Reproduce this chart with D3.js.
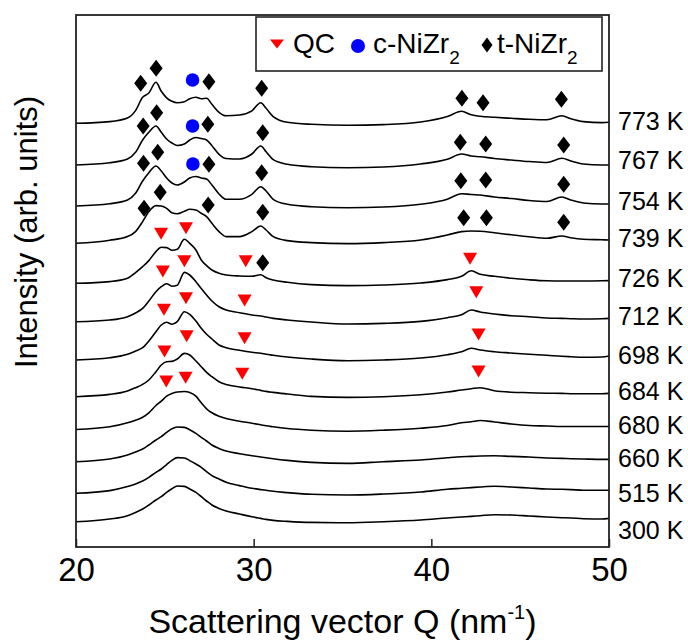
<!DOCTYPE html>
<meta charset="utf-8">
<script src="https://d3js.org/d3.v7.min.js"></script>
<style>
    body { margin: 0; background: #fff; }
    text { font-family: Arial, 'Liberation Sans', sans-serif; fill: #000; }
</style>
<div id="my_dataviz"></div>
<script>
    // temperatures, top curve first
    var temps = ["773 K", "767 K", "754 K", "739 K", "726 K", "712 K", "698 K", "684 K", "680 K", "660 K", "515 K", "300 K"];
    // vertical offset of each curve (arb. units)
    var offsets = [423.7, 382, 341, 303.7, 263.7, 225.3, 187, 150.3, 117.5, 85.3, 53.7, 25.3];
    // level of the temperature label next to each curve
    var labelLevels = [425.3, 387, 345.3, 308.7, 268.7, 230.3, 192, 155.3, 122, 88.7, 53.7, 17];

    // scattering vector Q (nm^-1)
    var qValues = [20, 21.9, 22.9, 23.35, 23.75, 24.1, 24.5, 24.8, 25.1, 25.4, 25.7, 26.1, 26.4, 26.75, 27.05, 27.35, 27.65, 28.05, 28.45, 29.2, 29.9, 30.4, 30.7, 31.1, 31.9, 33.25, 35.3, 37.3, 39.4, 40.9, 41.7, 42.25, 42.75, 43.55, 44.5, 45.5, 46.5, 47.35, 47.85, 48.55, 49.6, 50];

    // intensity above each curve's offset
    var i773 = [0, 1.7, 5.3, 12.7, 26, 30.3, 41, 32, 25.5, 22, 20.5, 21.5, 24.5, 26, 24.5, 25, 19, 11, 7.5, 8.3, 12.5, 20.5, 15, 6.7, 1, -1, -2, -1.3, 1.3, 6.7, 12, 8.5, 7, 6, 5, 4, 3.5, 7.5, 4.5, 1.7, 0.7, 1];
    var i767 = [0, 2.3, 6, 12.7, 25, 32.7, 39, 32.7, 26, 22, 19.5, 21, 25, 27.5, 26.5, 25, 19.3, 10.7, 6.5, 6, 11, 19, 13.3, 5.3, 0.7, -1.7, -2.7, -2, 1, 5.7, 11, 9, 8.3, 6.5, 5, 3.5, 2.5, 6.7, 4, 1, 0, 0];
    var i754 = [0, 2.3, 6, 12.7, 25, 33.3, 40, 35, 28, 23, 21, 24, 28, 29.5, 28, 27, 21, 12, 6.7, 6.7, 11.7, 19.3, 15, 6.7, 1.7, -0.7, -1.7, -1, 1.7, 6.7, 12.3, 11.5, 11, 9, 7.5, 5.5, 4.5, 9, 6, 3, 2, 2];
    var i739 = [0, 3, 6.7, 11.7, 21.7, 31.7, 37.7, 37.3, 35, 30.5, 29.5, 32, 34, 33.3, 30, 26.7, 20, 11.7, 6.7, 6.7, 11.7, 17.3, 13.3, 6.7, 2.7, 0.7, -0.3, 0.7, 3.3, 8.3, 11.7, 12.3, 12, 10.5, 8.5, 6.5, 5, 7.3, 5.5, 4, 3.5, 3.3];
    var i726 = [0, 1.7, 5, 10.7, 16.7, 22.7, 31.7, 36, 35.7, 33, 34, 44, 40, 33.3, 23.3, 17.7, 13.3, 10, 8.3, 7.3, 7, 8.5, 5.5, 3.3, 1, -1.3, -2.3, -1.7, 0.3, 3.7, 7, 12.5, 9, 7, 5, 3.5, 2.5, 2.3, 2.3, 2.3, 2.5, 2.7];
    var i712 = [0, 1.7, 5, 8.7, 13.3, 20.7, 30, 35, 38, 35.5, 36.5, 49.3, 46.7, 40, 33.3, 26.7, 20.7, 15, 11.7, 9, 6.7, 5.7, 4.7, 3.3, 1.7, -0.3, -2.3, -1.7, 0.3, 4, 7, 11.7, 9.7, 7.7, 6, 5, 3.7, 3.3, 3, 2.7, 3, 3.3];
    var i698 = [0, 2.3, 5.7, 9, 12.3, 19, 28.3, 35, 37.7, 35.7, 38.3, 48.3, 45.7, 39, 31.7, 25.7, 21, 15, 12.3, 9.7, 7.7, 6.7, 5.7, 4.7, 3, 1, -0.7, 0, 2, 5.3, 8.3, 11.7, 10, 8.3, 7, 5.7, 4.7, 3.7, 3.3, 2.7, 3, 4];
    var i684 = [0, 2.3, 5.7, 9, 12.3, 16.7, 25, 31.7, 35, 35.3, 37.7, 43.3, 41.7, 35.7, 30, 24.3, 20, 15, 12.3, 9.7, 8, 6.3, 5.3, 4.3, 2.7, 0.3, -0.7, 0, 2, 4.7, 6.7, 8, 9, 6, 4.5, 4, 3.5, 3.3, 3, 3, 3, 3.3];
    var i680 = [0, 2.7, 6.7, 9.3, 12.3, 16.7, 24, 28.3, 33.3, 36, 37.5, 38, 37, 33.3, 26.7, 20.7, 16.7, 13.3, 11, 8.3, 6.3, 4.7, 3.7, 2.7, 1, -0.7, -1.7, -0.7, 1.3, 4, 6.7, 7.7, 9, 7.5, 5.5, 4, 3.5, 3, 3, 3, 3, 3];
    var i660 = [0, 2.7, 6.7, 9.7, 12.7, 16.7, 21.7, 25, 29.3, 33, 34.7, 34.3, 32, 28.3, 24.3, 20.7, 16.7, 13.3, 10.7, 8, 6, 4.7, 4, 3, 1.3, -0.7, -1.7, 0, 1.7, 4, 5, 5.3, 5.7, 6, 5.3, 4.7, 3.7, 3.3, 3, 2.7, 2.3, 2.3];
    var i515 = [0, 2.7, 6.7, 9.3, 12.3, 16, 21, 24.3, 28.7, 33, 35.7, 35.3, 32.7, 29.3, 26, 21.7, 17.7, 14.3, 11, 7.7, 5, 3.7, 3, 2, 0.7, -1, -1.7, -0.7, 1.3, 4, 5, 5.7, 6.3, 7, 6.3, 5.3, 4.3, 4, 3.7, 3, 3, 3];
    var i300 = [0, 2.7, 6, 9.3, 12.7, 16.7, 21.7, 25, 29.3, 33, 35.7, 35.3, 32.7, 29.3, 25, 20.7, 16.7, 13.3, 10.7, 7.7, 5, 3.3, 2.3, 1.3, 0.3, -0.7, -1, 0, 1.7, 3.7, 4.7, 5.3, 6, 7, 6.7, 5.7, 4.7, 4, 3.7, 3, 2.7, 3.3];
    var intensities = [i773, i767, i754, i739, i726, i712, i698, i684, i680, i660, i515, i300];

    // peak markers [Q, level]
    var tNiZr2 = [[23.64, 463.7], [24.51, 478.7], [27.48, 465.3], [30.45, 458.7], [41.72, 448.7], [42.91, 444.3], [47.32, 447.7],
                  [23.78, 421], [24.54, 434.3], [27.42, 422.7], [30.51, 414.3], [41.63, 404.7], [43.06, 403], [47.45, 402],
                  [23.80, 383.7], [24.60, 394.7], [27.48, 382.7], [30.45, 374.3], [41.66, 366.3], [43.06, 367], [47.45, 362.7],
                  [23.83, 338.7], [24.74, 354.7], [27.44, 342], [30.51, 334.7], [41.82, 329.3], [43.10, 329.3], [47.45, 324.7],
                  [30.51, 284.3]];
    var cNiZr2 = [[26.56, 467], [26.56, 421], [26.58, 383]];
    var qc = [[24.79, 313.7], [26.19, 319.3],
              [24.89, 276], [26.10, 286.3], [29.55, 286.3], [42.18, 288.7],
              [24.95, 237.7], [26.19, 249.3], [29.49, 247], [42.53, 255.3],
              [24.98, 196], [26.23, 211.3], [29.49, 209.3], [42.66, 213],
              [25.08, 166], [26.17, 169.7], [29.36, 173.7], [42.66, 176]];

    var margin = {top: 15, right: 79, bottom: 94, left: 76},
        width = 688 - margin.left - margin.right,
        height = 641 - margin.top - margin.bottom;

    var svg = d3.select("#my_dataviz")
        .append("svg")
        .attr("width", 688)
        .attr("height", 641)
        .append("g")
        .attr("transform", "translate(" + margin.left + "," + margin.top + ")");

    var x = d3.scaleLinear().domain([20, 50]).range([0, width]);
    var y = d3.scaleLinear().domain([0, height]).range([height, 0]);

    // the curves
    intensities.forEach(function(vals, k) {
        var line = d3.line()
            .curve(d3.curveMonotoneX)
            .x(function(d, i) { return x(qValues[i]); })
            .y(function(d) { return y(offsets[k] + d); });
        svg.append("path")
            .datum(vals)
            .attr("fill", "none")
            .attr("stroke", "#000")
            .attr("stroke-width", 1.6)
            .attr("d", line);
    });

    // marker shapes
    var diamondPath = "M0,-8.5L6.5,0L0,8.5L-6.5,0Z";
    var trianglePath = "M-7,-5.5L7,-5.5L0,6.5Z";

    svg.selectAll(".tmark")
        .data(tNiZr2)
        .enter()
        .append("path")
        .attr("d", diamondPath)
        .attr("fill", "#000")
        .attr("transform", function(d) { return "translate(" + x(d[0]) + "," + y(d[1]) + ")"; });

    svg.selectAll(".cmark")
        .data(cNiZr2)
        .enter()
        .append("circle")
        .attr("cx", function(d) { return x(d[0]); })
        .attr("cy", function(d) { return y(d[1]); })
        .attr("r", 6.8)
        .attr("fill", "#0000ff");

    svg.selectAll(".qmark")
        .data(qc)
        .enter()
        .append("path")
        .attr("d", trianglePath)
        .attr("fill", "#ff0000")
        .attr("transform", function(d) { return "translate(" + x(d[0]) + "," + y(d[1]) + ")"; });

    // temperature labels on the right
    svg.selectAll(".tlabel")
        .data(temps)
        .enter()
        .append("text")
        .attr("x", width + 9)
        .attr("y", function(d, i) { return y(labelLevels[i]); })
        .attr("dy", "0.35em")
        .style("font-size", "25px")
        .text(function(d) { return d; });

    // x axis, ticks pointing inwards
    var xAxis = svg.append("g")
        .attr("transform", "translate(0," + height + ")")
        .call(d3.axisBottom(x).tickValues([20, 30, 40, 50]).tickSizeInner(-8).tickSizeOuter(0).tickPadding(11));
    xAxis.select(".domain").remove();
    xAxis.selectAll("line").attr("stroke", "#222").attr("stroke-width", 1.5);
    xAxis.selectAll("text")
        .style("font-size", "33px")
        .style("font-family", "Arial, 'Liberation Sans', sans-serif");

    // frame
    svg.append("rect")
        .attr("width", width)
        .attr("height", height)
        .attr("fill", "none")
        .attr("stroke", "#222")
        .attr("stroke-width", 1.8);

    // axis titles
    var xt = svg.append("text")
        .attr("x", width / 2)
        .attr("y", height + 86)
        .style("text-anchor", "middle")
        .style("font-size", "34px");
    xt.append("tspan").text("Scattering vector Q (nm");
    xt.append("tspan").attr("dy", -14).style("font-size", "20px").text("-1");
    xt.append("tspan").attr("dy", 14).text(")");

    svg.append("text")
        .attr("transform", "rotate(-90)")
        .attr("x", -(232 - margin.top))
        .attr("y", 37 - margin.left)
        .style("text-anchor", "middle")
        .style("font-size", "31px")
        .text("Intensity (arb. units)");

    // legend
    var legend = svg.append("g").attr("transform", "translate(180,2)");
    legend.append("rect")
        .attr("width", 346)
        .attr("height", 54)
        .attr("fill", "#fff")
        .attr("stroke", "#222")
        .attr("stroke-width", 1.6);
    legend.append("path")
        .attr("d", "M-7,-4.5L7,-4.5L0,4.5Z")
        .attr("fill", "#ff0000")
        .attr("transform", "translate(21,27)");
    legend.append("text").attr("x", 37).attr("y", 36).style("font-size", "28px").text("QC");
    legend.append("circle").attr("cx", 102).attr("cy", 29).attr("r", 7).attr("fill", "#0000ff");
    var l2 = legend.append("text").attr("x", 117).attr("y", 36).style("font-size", "28px");
    l2.append("tspan").text("c-NiZr");
    l2.append("tspan").attr("dy", 11).style("font-size", "19px").text("2");
    legend.append("path")
        .attr("d", "M0,-7.5L5.5,0L0,7.5L-5.5,0Z")
        .attr("fill", "#000")
        .attr("transform", "translate(231,28)");
    var l3 = legend.append("text").attr("x", 241).attr("y", 36).style("font-size", "28px");
    l3.append("tspan").text("t-NiZr");
    l3.append("tspan").attr("dy", 11).style("font-size", "19px").text("2");
</script>
